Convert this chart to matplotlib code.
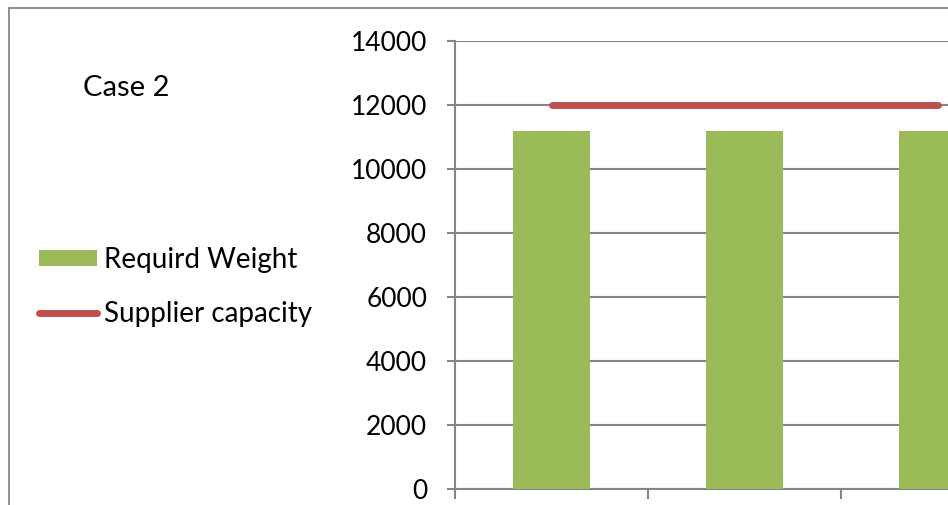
import matplotlib
matplotlib.use("Agg")
import matplotlib.pyplot as plt
from matplotlib.patches import Rectangle
import numpy as np

categories = ["1", "2", "3"]
required_weight = [11200, 11200, 11200]
supplier_capacity = [12000, 12000, 12000]
yticks = [0, 2000, 4000, 6000, 8000, 10000, 12000, 14000]

plt.rcParams['font.family'] = ['Lato', 'DejaVu Sans']

W, H = 948, 505
fig = plt.figure(figsize=(W/100, H/100), dpi=100)

# outer chart border (cropped at right/bottom)
fig.patches.append(Rectangle((9/W, -0.1), 2.0, 1 - 8/H + 0.1, transform=fig.transFigure,
                             fill=False, edgecolor='#868686', linewidth=1.3))

left = 455/W
bottom = (H - 489)/H
top = (H - 41)/H
width = (3*193)/W
ax = fig.add_axes([left, bottom, width, top - bottom])

x = np.arange(len(categories))
ax.bar(x, required_weight, width=0.4, color='#9BBB59', label='Requird Weight', zorder=3)
ax.plot(x, supplier_capacity, color='#C0504D', linewidth=5, solid_capstyle='round',
        label='Supplier capacity', zorder=4)

ax.set_xlim(-0.5, len(categories) - 0.5)
ax.set_ylim(0, 14000)
ax.set_yticks(yticks)
ax.set_yticklabels([str(v) for v in yticks], fontsize=19)
ax.set_xticks(np.arange(len(categories) + 1) - 0.5)
ax.set_xticklabels([])
ax.yaxis.grid(True, color='#868686', linewidth=1.5, zorder=0)
ax.tick_params(axis='y', length=6, width=1.5, color='#868686', pad=14, direction='out')
ax.tick_params(axis='x', length=7, width=1.5, color='#868686', direction='out')
for s in ['top', 'right']:
    ax.spines[s].set_visible(False)
for s in ['left', 'bottom']:
    ax.spines[s].set_color('#868686')
    ax.spines[s].set_linewidth(1.5)
ax.set_axisbelow(True)

fig.text(83/W, 1 - 88/H, 'Case 2', fontsize=21, va='center', ha='left')

handles, labels = ax.get_legend_handles_labels()
order = [1, 0]
leg = fig.legend([handles[i] for i in order], [labels[i] for i in order],
                 loc='center left', bbox_to_anchor=(28/W, 1 - 287/H),
                 frameon=False, fontsize=20, handlelength=2.1, handletextpad=0.25,
                 handleheight=0.5, labelspacing=1.0, borderaxespad=0)

fig.savefig('out.png', dpi=100)
